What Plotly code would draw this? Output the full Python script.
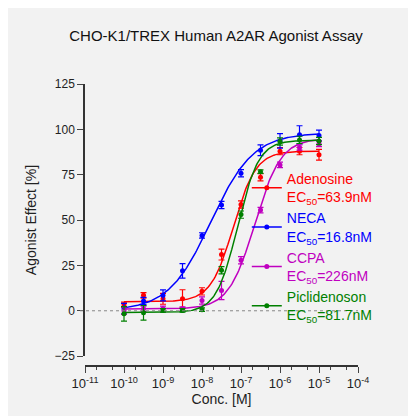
import numpy as np
import plotly.graph_objects as go

log_conc = [-10, -9.5, -9, -8.5, -8, -7.5, -7, -6.5, -6, -5.5, -5]
names = ["Adenosine", "NECA", "CCPA", "Piclidenoson"]
colors = ["#ff0000", "#0000ff", "#c000c0", "#008000"]
ec50_nM = [63.9, 16.8, 226, 81.7]
adenosine = [3.3, 8.5, 6.6, 6.6, 10.7, 31, 58.6, 73.6, 88, 88, 86]
neca = [1.1, 5.4, 8.5, 22, 41.5, 58.3, 75.8, 88.5, 93.6, 97, 96.6]
ccpa = [0, 1.1, 1.1, 1.1, 5.7, 11.2, 27.8, 55.5, 80.4, 90, 92]
piclidenoson = [-1.7, -1.1, 0.2, 0.2, 0.6, 22.3, 53, 76.7, 93.3, 94.2, 93.6]
err_adenosine = [1.5, 1.5, 3, 5, 2, 3, 2, 2, 2, 2, 3]
err_neca = [3, 2, 3, 4, 1.5, 2, 2, 3, 4, 5, 3]
err_ccpa = [2, 1.5, 1.5, 1, 2, 5, 2, 1.5, 1.5, 1.5, 1.5]
err_pic = [4, 4, 1, 1, 1, 2, 2, 1, 2, 2, 2]
bottoms = [5, 0, 1, -1]
tops = [88, 98, 95, 94]
hills = [1.5, 0.8, 1.3, 1.6]

series = [adenosine, neca, ccpa, piclidenoson]
errs = [err_adenosine, err_neca, err_ccpa, err_pic]

fig = go.Figure()
xs = np.linspace(-10, -5, 200)
for n, c, ec, ys, es, b, t, h in zip(names, colors, ec50_nM, series, errs, bottoms, tops, hills):
    lec = np.log10(ec * 1e-9)
    yc = b + (t - b) / (1 + 10 ** ((lec - xs) * h))
    fig.add_trace(go.Scatter(x=10 ** xs, y=yc, mode="lines", line=dict(color=c, width=1.5),
                             showlegend=False, hoverinfo="skip"))
    fig.add_trace(go.Scatter(x=[10 ** v for v in log_conc], y=ys, mode="markers",
                             marker=dict(color=c, size=5), showlegend=False,
                             error_y=dict(type="data", array=es, color=c, thickness=1.2, width=3)))
    label = f"<span style='color:{c}'>{n}<br>EC<sub>50</sub>={ec:g}nM</span>"
    fig.add_trace(go.Scatter(x=[None], y=[None], mode="lines+markers",
                             line=dict(color=c, width=1.5), marker=dict(color=c, size=5),
                             name=label))

fig.add_shape(type="line", xref="paper", yref="y", x0=0, x1=1, y0=0, y1=0,
              line=dict(color="#888888", width=1, dash="dot"))

tickvals = [10.0 ** k for k in range(-11, -3)]
ticktext = [f"10<sup>{k}</sup>" for k in range(-11, -3)]
fig.update_layout(
    width=416, height=416,
    margin=dict(l=72, r=66, t=76, b=58, autoexpand=False),
    paper_bgcolor="#f2f2f2", plot_bgcolor="#f2f2f2",
    font=dict(family="Liberation Sans, Arial", size=12, color="#222222"),
    title=dict(text="CHO-K1/TREX Human A2AR Agonist Assay", x=0.5, y=0.945, xanchor="center",
               font=dict(size=15, color="#111111")),
    xaxis=dict(type="log", range=[-11, -4], domain=[0.018, 1], anchor="free", position=0,
               automargin=False,
               tickvals=tickvals, ticktext=ticktext, ticks="outside", ticklen=6,
               minor=dict(ticks="outside", ticklen=3, showgrid=False),
               tickfont=dict(size=13),
               showline=True, linecolor="#333333", linewidth=1.5, showgrid=False, zeroline=False,
               title=dict(text="Conc. [M]", standoff=2, font=dict(size=14))),
    yaxis=dict(range=[-25, 125], domain=[0.035, 1], tickvals=[-25, 0, 25, 50, 75, 100, 125],
               automargin=False, tickfont=dict(size=12),
               ticks="outside", ticklen=6, showline=True, linecolor="#333333", linewidth=1.5,
               showgrid=False, zeroline=False,
               title=dict(text="Agonist Effect [%]", font=dict(size=14))),
    legend=dict(x=0.6, y=0.72, xanchor="left", yanchor="top", bgcolor="rgba(0,0,0,0)",
                font=dict(size=14), tracegroupgap=14, itemwidth=30),
)
fig.write_html("out.html")
